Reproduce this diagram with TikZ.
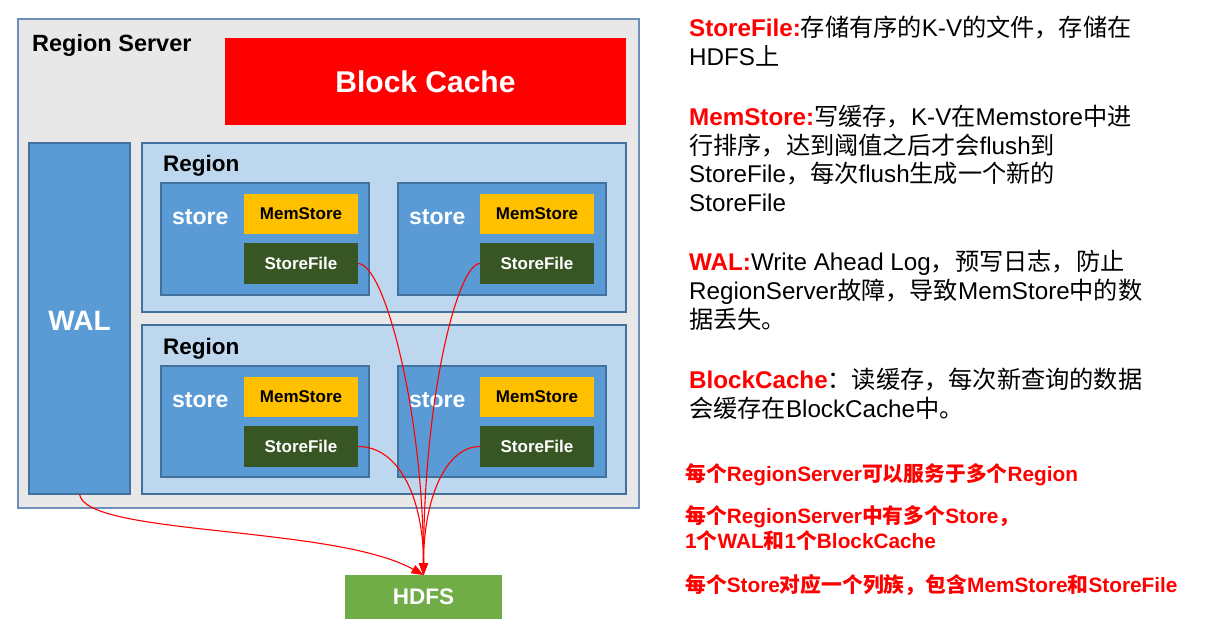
\documentclass[tikz,border=0pt]{standalone}
\usepackage{fontspec}
\setmainfont{Liberation Sans}
\newfontfamily\cjk{Noto Sans CJK SC}
\usetikzlibrary{arrows.meta}
\definecolor{hred}{HTML}{FF0000}
\definecolor{rsgrey}{HTML}{E8E8E8}
\definecolor{rsborder}{HTML}{6F8FB8}
\definecolor{regfill}{HTML}{BDD7EE}
\definecolor{bluebox}{HTML}{5B9BD5}
\definecolor{blueedge}{HTML}{41719C}
\definecolor{memfill}{HTML}{FFC000}
\definecolor{sffill}{HTML}{375623}
\definecolor{hdfsfill}{HTML}{70AD47}
\newcommand\zh[1]{{\cjk #1}}
\newcommand\fsz[1]{\fontsize{#1}{#1}\selectfont}
\tikzset{
  boxbase/.style={inner sep=0pt, outer sep=0pt, line width=1.1pt},
  rsbox/.style={boxbase, fill=rsgrey, draw=rsborder},
  cachebox/.style={boxbase, fill=hred, text=white, font=\fsz{30}\bfseries},
  walbox/.style={boxbase, fill=bluebox, draw=blueedge, text=white, font=\fsz{28}\bfseries},
  regbox/.style={boxbase, fill=regfill, draw=blueedge, minimum width=484pt, minimum height=169pt},
  storebox/.style={boxbase, fill=bluebox, draw=blueedge, minimum width=208pt, minimum height=112pt},
  membox/.style={boxbase, fill=memfill, text=black, font=\fsz{17}\bfseries, minimum width=114pt, minimum height=40pt},
  sfbox/.style={boxbase, fill=sffill, text=white, font=\fsz{17}\bfseries, minimum width=114pt, minimum height=41pt},
  hdfsbox/.style={boxbase, fill=hdfsfill, text=white, font=\fsz{22.5}\bfseries, minimum width=157pt, minimum height=44pt},
  blacklabel/.style={inner sep=0pt, anchor=base west, font=\fsz{22.5}\bfseries},
  storelabel/.style={inner sep=0pt, anchor=base west, text=white, font=\fsz{23}\bfseries},
  flow/.style={draw=hred, line width=1.1pt, -{Triangle[length=12pt,width=9pt]}},
  desc/.style={inner sep=0pt, anchor=base west, font=\fsz{24.2}},
  redline/.style={inner sep=0pt, anchor=base west, text=hred, font=\fsz{20.8}\bfseries}
}
\begin{document}
\begin{tikzpicture}[x=1pt,y=-1pt]
\useasboundingbox[fill=white] (0,0) rectangle (1210,628);
% Region Server
\node[rsbox, minimum width=621pt, minimum height=489pt] (rs) at (328.5,263.5) {};
\node[blacklabel, font=\fsz{23.5}\bfseries] (rslabel) at (32,52) {Region Server};
\node[cachebox, minimum width=401pt, minimum height=87pt] (cache) at (425.5,81.5) {Block Cache};
\node[walbox, minimum width=101pt, minimum height=351pt] (wal) at (79.5,318.5) {};
\node[inner sep=0pt, text=white, font=\fsz{28}\bfseries] (wallabel) at (79.5,321) {WAL};
% Regions
\node[regbox] (reg1) at (384,227.5) {};
\node[regbox] (reg2) at (384,409.5) {};
\node[blacklabel] (reg1label) at (163,172) {Region};
\node[blacklabel] (reg2label) at (163,354) {Region};
% Stores
\node[storebox] (stL1) at (265,239) {};
\node[storebox] (stR1) at (502,239) {};
\node[storebox, minimum height=111pt] (stL2) at (265,421.5) {};
\node[storebox, minimum height=111pt] (stR2) at (502,421.5) {};
\node[storelabel] (stL1label) at (172,225) {store};
\node[storelabel] (stR1label) at (409,225) {store};
\node[storelabel] (stL2label) at (172,407) {store};
\node[storelabel] (stR2label) at (409,407) {store};
\node[membox] (msL1) at (301,214) {MemStore};
\node[membox] (msR1) at (537,214) {MemStore};
\node[membox] (msL2) at (301,397) {MemStore};
\node[membox] (msR2) at (537,397) {MemStore};
\node[sfbox] (sfL1) at (301,263.5) {StoreFile};
\node[sfbox] (sfR1) at (537,263.5) {StoreFile};
\node[sfbox] (sfL2) at (301,446.5) {StoreFile};
\node[sfbox] (sfR2) at (537,446.5) {StoreFile};
% HDFS
\node[hdfsbox] (hdfs) at (423.5,597) {HDFS};
% Flows
\draw[flow] (sfL1.east) .. controls +(27,0) and +(0,-160) .. (hdfs.north);
\draw[flow] (sfR1.west) .. controls +(-22,0) and +(0,-180) .. (hdfs.north);
\draw[flow] (sfL2.east) .. controls +(42,0) and +(0,-75) .. (hdfs.north);
\draw[flow] (sfR2.west) .. controls +(-35,0) and +(0,-75) .. (hdfs.north);
\draw[flow] (wal.south) .. controls +(5,42) and +(-90,-50) .. (hdfs.north);
% Descriptions
\node[desc] (d1) at (689,37) {{\color{hred}\bfseries StoreFile:}\zh{存储有序的}K-V\zh{的文件，存储在}};
\node[desc] (d2) at (689,66) {HDFS\zh{上}};
\node[desc] (d3) at (689,126) {{\color{hred}\bfseries MemStore:}\zh{写缓存，}K-V\zh{在}Memstore\zh{中进}};
\node[desc] (d4) at (689,155) {\zh{行排序，达到阈值之后才会}flush\zh{到}};
\node[desc] (d5) at (689,183) {StoreFile\zh{，每次}flush\zh{生成一个新的}};
\node[desc] (d6) at (689,212) {StoreFile};
\node[desc] (d7) at (689,271) {{\color{hred}\bfseries WAL:}Write Ahead Log\zh{，预写日志，防止}};
\node[desc] (d8) at (689,300) {RegionServer\zh{故障，导致}MemStore\zh{中的数}};
\node[desc] (d9) at (689,329) {\zh{据丢失。}};
\node[desc] (d10) at (689,388) {{\color{hred}\bfseries BlockCache}\zh{：读缓存，每次新查询的数据}};
\node[desc] (d11) at (689,417) {\zh{会缓存在}BlockCache\zh{中。}};
\node[redline] (r1) at (685,481) {\zh{每个}RegionServer\zh{可以服务于多个}Region};
\node[redline] (r2) at (685,523) {\zh{每个}RegionServer\zh{中有多个}Store\zh{，}};
\node[redline] (r3) at (685,548) {1\zh{个}WAL\zh{和}1\zh{个}BlockCache};
\node[redline] (r4) at (685,592) {\zh{每个}Store\zh{对应一个列族，包含}MemStore\zh{和}StoreFile};
\end{tikzpicture}
\end{document}
